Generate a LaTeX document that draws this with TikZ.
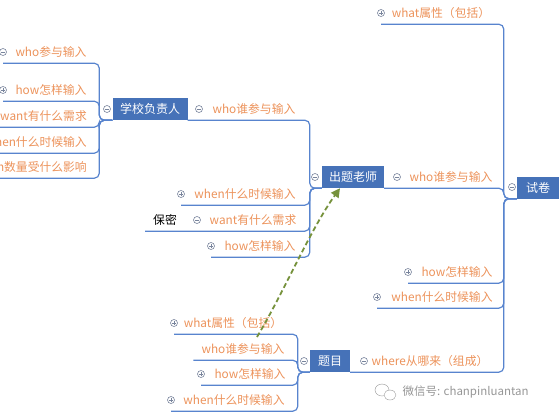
\documentclass[tikz,border=0pt]{standalone}
\usepackage{fontspec}
\usetikzlibrary{arrows.meta}
\newfontfamily\cjk{Noto Sans CJK SC}
\definecolor{boxblue}{RGB}{70,114,184}
\definecolor{lineblue}{RGB}{88,132,206}
\definecolor{itemorange}{RGB}{236,146,90}
\definecolor{markgray}{RGB}{120,132,156}
\definecolor{arrowgreen}{RGB}{118,146,60}
\definecolor{wmgray}{RGB}{150,150,150}

\begin{document}
\begin{tikzpicture}[x=1pt,y=-1pt,
    topic/.style={fill=boxblue, text=white, inner sep=0pt, minimum height=22pt, font=\cjk\fontsize{12}{14}\selectfont},
    item/.style={text=itemorange, inner sep=0pt, minimum height=22pt, font=\cjk\fontsize{11.8}{14}\selectfont},
    uline/.style={draw=lineblue, line width=1.2pt, rounded corners=5pt},
    fold/.style={circle, draw=markgray, fill=white, line width=0.6pt, minimum size=7pt, inner sep=0pt,
      path picture={\draw[markgray, line width=0.7pt] ([xshift=-2pt]path picture bounding box.center) -- ([xshift=2pt]path picture bounding box.center);}},
    unfold/.style={circle, draw=markgray, fill=white, line width=0.6pt, minimum size=7pt, inner sep=0pt,
      path picture={\draw[markgray, line width=0.7pt] ([xshift=-2pt]path picture bounding box.center) -- ([xshift=2pt]path picture bounding box.center)
        ([yshift=-2pt]path picture bounding box.center) -- ([yshift=2pt]path picture bounding box.center);}},
    dasharrow/.style={draw=arrowgreen, line width=1.8pt, dash pattern=on 5pt off 3pt, -{Triangle[length=9pt,width=9pt]}}]
    \clip (0,0) rectangle (559,416);

    % topics
    \node[topic, minimum width=42pt] (shijuan) at (538,187.5) {试卷};
    \node[topic, minimum width=62pt] (chuti) at (353,177) {出题老师};
    \node[topic, minimum width=75pt] (xuexiao) at (150,109) {学校负责人};
    \node[topic, minimum width=40pt] (timu) at (330,361) {题目};

    \coordinate (rt) at ([xshift=-13pt]shijuan.south west);
    \coordinate (ct) at ([xshift=-12pt]chuti.south west);
    \coordinate (xt) at ([xshift=-13pt]xuexiao.south west);
    \coordinate (tt) at ([xshift=-12pt]timu.south west);

    % branches of the paper
    \node[item] (what) at (441,13) {what属性（包括）};
    \node[item] (who) at (451,177) {who谁参与输入};
    \node[item] (how) at (457,272) {how怎样输入};
    \node[item] (when) at (442,297) {when什么时候输入};
    \node[item] (where) at (430,361) {where从哪来（组成）};

    % branches of the teacher
    \node[item] (who2) at (254,109) {who谁参与输入};
    \node[item] (when2) at (245,194) {when什么时候输入};
    \node[item] (want2) at (253,220) {want有什么需求};
    \node[item, text=black, inner xsep=8pt] (baomi) at (165,220) {保密};
    \node[item] (how2) at (260,246) {how怎样输入};

    % branches of the school
    \node[item] (who3) at (51,52) {who参与输入};
    \node[item] (how3) at (51,90) {how怎样输入};
    \node[item, anchor=east] (want3) at (87,116) {want有什么需求};
    \node[item, anchor=east] (when3) at (87,142) {when什么时候输入};
    \node[item, anchor=east] (num3) at (87,167) {n数量受什么影响};

    % branches of the question
    \node[item] (what4) at (233,323) {what属性（包括）};
    \node[item] (who4) at (243,349) {who谁参与输入};
    \node[item] (how4) at (250,374) {how怎样输入};
    \node[item] (when4) at (234,400) {when什么时候输入};

    % connectors
    \draw[uline] (381,13 |- what.south) -- (rt |- what.south) -- (rt) -- (shijuan.south west);
    \draw[uline] (chuti.south east) -- (rt |- who.south) -- (rt) -- (shijuan.south west);
    \draw[uline] (408,0 |- how.south) -- (rt |- how.south) -- (rt) -- (shijuan.south west);
    \draw[uline] (377,0 |- when.south) -- (rt |- when.south) -- (rt) -- (shijuan.south west);
    \draw[uline] (timu.south east) -- (rt |- where.south) -- (rt) -- (shijuan.south west);

    \draw[uline] (xuexiao.south east) -- (ct |- who2.south) -- (ct) -- (chuti.south west);
    \draw[uline] (181,0 |- when2.south) -- (ct |- when2.south) -- (ct) -- (chuti.south west);
    \draw[uline] (baomi.south west) -- (ct |- want2.south) -- (ct) -- (chuti.south west);
    \draw[uline] (211,0 |- how2.south) -- (ct |- how2.south) -- (ct) -- (chuti.south west);

    \draw[uline] (3,0 |- who3.south) -- (xt |- who3.south) -- (xt) -- (xuexiao.south west);
    \draw[uline] (3,0 |- how3.south) -- (xt |- how3.south) -- (xt) -- (xuexiao.south west);
    \draw[uline] ([xshift=-20pt]want3.south west) -- (xt |- want3.south) -- (xt) -- (xuexiao.south west);
    \draw[uline] ([xshift=-20pt]when3.south west) -- (xt |- when3.south) -- (xt) -- (xuexiao.south west);
    \draw[uline] ([xshift=-20pt]num3.south west) -- (xt |- num3.south) -- (xt) -- (xuexiao.south west);

    \draw[uline] (174,0 |- what4.south) -- (tt |- what4.south) -- (tt) -- (timu.south west);
    \draw[uline] ([xshift=-8pt]who4.south west) -- (tt |- who4.south) -- (tt) -- (timu.south west);
    \draw[uline] (201,0 |- how4.south) -- (tt |- how4.south) -- (tt) -- (timu.south west);
    \draw[uline] (171,0 |- when4.south) -- (tt |- when4.south) -- (tt) -- (timu.south west);

    % fold markers
    \node[fold] (shijuan-m) at (512,187) {};
    \node[unfold] (what-m) at (381,13) {};
    \node[fold] (who-m) at (397,177) {};
    \node[unfold] (how-m) at (408,272) {};
    \node[unfold] (when-m) at (377,297) {};
    \node[fold] (where-m) at (364,361) {};
    \node[fold] (chuti-m) at (315,177) {};
    \node[fold] (who2-m) at (199,109) {};
    \node[unfold] (when2-m) at (181,194) {};
    \node[fold] (want2-m) at (197,220) {};
    \node[unfold] (how2-m) at (211,246) {};
    \node[fold] (xuexiao-m) at (107,109) {};
    \node[fold] (who3-m) at (3,52) {};
    \node[unfold] (how3-m) at (3,90) {};
    \node[fold] (timu-m) at (304,361) {};
    \node[unfold] (what4-m) at (174,323) {};
    \node[unfold] (how4-m) at (201,374) {};
    \node[unfold] (when4-m) at (171,400) {};

    % dashed link
    \coordinate (link) at (257,337);
    \draw[dasharrow] (link) .. controls (285,290) and (310,230) .. ([xshift=-13pt]chuti.south);

    % watermark
    \draw[wmgray, fill=white] (382,390) ellipse (7pt and 6pt);
    \draw[wmgray, fill=white] (390,395) ellipse (6pt and 5pt);
    \node[text=wmgray, font=\cjk\fontsize{11.5}{14}\selectfont, anchor=west] (wx) at (399,392) {微信号: chanpinluantan};
\end{tikzpicture}
\end{document}
